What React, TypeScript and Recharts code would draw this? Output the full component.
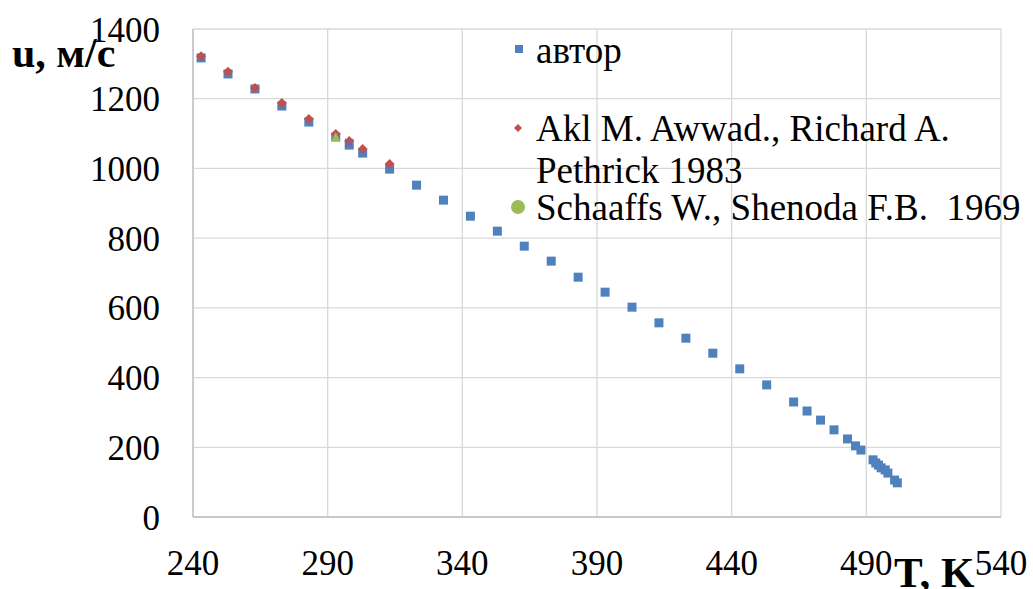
import React from "react";
import {
  CartesianGrid,
  Legend,
  Scatter,
  ScatterChart,
  XAxis,
  YAxis,
} from "recharts";

// ---- data ----
const authorT = [
  243, 253, 263, 273, 283, 293, 298, 303, 313, 323, 333, 343, 353, 363, 373,
  383, 393, 403, 413, 423, 433, 443, 453, 463, 468, 473, 478, 483, 486, 488,
  492.5, 493.5, 494.5, 495.5, 497, 498, 500.5, 501.5,
];
const authorU = [
  1317, 1271, 1228, 1179, 1133, 1090, 1067, 1044, 998, 952, 909, 863, 820, 777,
  734, 688, 645, 602, 557, 513, 470, 425, 379, 330, 304, 278, 250, 224, 204,
  192, 164, 155, 149, 141, 135, 126, 106, 98,
];
const awwadT = [243, 253, 263, 273, 283, 293, 298, 303, 313];
const awwadU = [1322, 1277, 1231, 1188, 1142, 1099, 1079, 1056, 1013];
const schaaffsT = [293];
const schaaffsU = [1090];
const extraT = [298];
const extraU = [1073];

const xTicks = [240, 290, 340, 390, 440, 490, 540];
const yTicks = [0, 200, 400, 600, 800, 1000, 1200, 1400];

const toPoints = (t: number[], u: number[]) => t.map((T, i) => ({ T, u: u[i] }));

const authorData = toPoints(authorT, authorU);
const awwadData = toPoints(awwadT, awwadU);
const schaaffsData = toPoints(schaaffsT, schaaffsU);
const extraData = toPoints(extraT, extraU);

const BLUE = "#4F81BD";
const RED = "#C0504D";
const GREEN = "#9BBB59";
const PURPLE = "#8064A2";
const FONT = "'Liberation Serif', 'Times New Roman', Times, 'DejaVu Serif', serif";

const Square = (p: any) => (
  <rect x={p.cx - 4.5} y={p.cy - 4.5} width={9} height={9} fill={BLUE} />
);
const Diamond = (p: any) => (
  <polygon
    points={`${p.cx},${p.cy - 5} ${p.cx + 5},${p.cy} ${p.cx},${p.cy + 5} ${p.cx - 5},${p.cy}`}
    fill={RED}
  />
);
const Triangle = (p: any) => (
  <polygon
    points={`${p.cx},${p.cy - 5} ${p.cx + 4.5},${p.cy + 4} ${p.cx - 4.5},${p.cy + 4}`}
    fill={GREEN}
  />
);
const Cross = (p: any) => (
  <path
    d={`M${p.cx - 4},${p.cy - 4}L${p.cx + 4},${p.cy + 4}M${p.cx + 4},${p.cy - 4}L${p.cx - 4},${p.cy + 4}`}
    stroke={PURPLE}
    strokeWidth={1.5}
  />
);

const serif = { fontFamily: FONT, fontWeight: 400 as const };

// tick labels in Times-like serif
const XTick = (p: any) => (
  <text x={p.x} y={p.y + 25} textAnchor="middle" fontSize={35} fill="#000" style={serif}>
    {p.payload.value}
  </text>
);
const YTick = (p: any) => (
  <text x={p.x} y={p.y + 12.5} textAnchor="end" fontSize={35} fill="#000" style={serif}>
    {p.payload.value}
  </text>
);

const LegendBox = () => (
  <svg width={1033} height={589} style={{ overflow: "visible" }}>
    <g fontSize={37} fill="#000" style={serif}>
      <rect x={515} y={45} width={8} height={8} fill={BLUE} />
      <text x={536} y={63}>автор</text>
      <polygon points="518,124 522,128 518,132 514,128" fill={RED} />
      <text x={536} y={141}>Akl M. Awwad., Richard A.</text>
      <text x={536} y={183}>Pethrick 1983</text>
      <circle cx={518} cy={207} r={7} fill={GREEN} />
      <text x={536} y={220} xmlSpace="preserve" style={{ whiteSpace: "pre" }}>
        {"Schaaffs W., Shenoda F.B.  1969"}
      </text>
    </g>
  </svg>
);

const YTitle = (props: any) => {
  const vb = props.viewBox;
  return (
    <text
      x={vb.x - 121}
      y={vb.y + 38}
      fontSize={42}
      fill="#000"
      style={{ fontFamily: FONT, fontWeight: 700 }}
    >
      u, м/с
    </text>
  );
};

const XTitle = (props: any) => {
  const vb = props.viewBox;
  return (
    <text
      x={vb.x + vb.width - 107}
      y={vb.y + 70}
      fontSize={43}
      fill="#000"
      style={{ fontFamily: FONT, fontWeight: 700 }}
    >
      T, K
    </text>
  );
};

export default function App() {
  return (
    <div style={{ position: "absolute", left: 0, top: 0, background: "#fff" }}>
      <ScatterChart
        width={1033}
        height={589}
        margin={{ top: 29, right: 32, left: 133, bottom: 32 }}
      >
        <CartesianGrid stroke="#d9d9d9" strokeWidth={1.3} />
        <XAxis
          type="number"
          dataKey="T"
          domain={[240, 540]}
          ticks={xTicks}
          interval={0}
          height={40}
          axisLine={{ stroke: "#bfbfbf", strokeWidth: 1.3 }}
          tickLine={false}
          tickSize={6}
          tickMargin={27}
          tick={<XTick />}
          label={<XTitle />}
        />
        <YAxis
          type="number"
          dataKey="u"
          domain={[0, 1400]}
          ticks={yTicks}
          interval={0}
          width={60}
          axisLine={{ stroke: "#bfbfbf", strokeWidth: 1.3 }}
          tickLine={false}
          tickSize={6}
          tickMargin={27}
          tick={<YTick />}
          label={<YTitle />}
        />
        <Legend
          layout="horizontal"
          verticalAlign="middle"
          align="center"
          content={<LegendBox />}
          wrapperStyle={{ left: 0, top: 0, width: 1033, height: 589, pointerEvents: "none" }}
        />
        <Scatter name="автор" data={authorData} shape={Square} isAnimationActive={false} />
        <Scatter
          name="Akl M. Awwad., Richard A. Pethrick 1983"
          data={awwadData}
          shape={Diamond}
          isAnimationActive={false}
        />
        <Scatter name="extra" data={extraData} shape={Cross} isAnimationActive={false} />
        <Scatter
          name="Schaaffs W., Shenoda F.B.  1969"
          data={schaaffsData}
          shape={Triangle}
          isAnimationActive={false}
        />
      </ScatterChart>
    </div>
  );
}
